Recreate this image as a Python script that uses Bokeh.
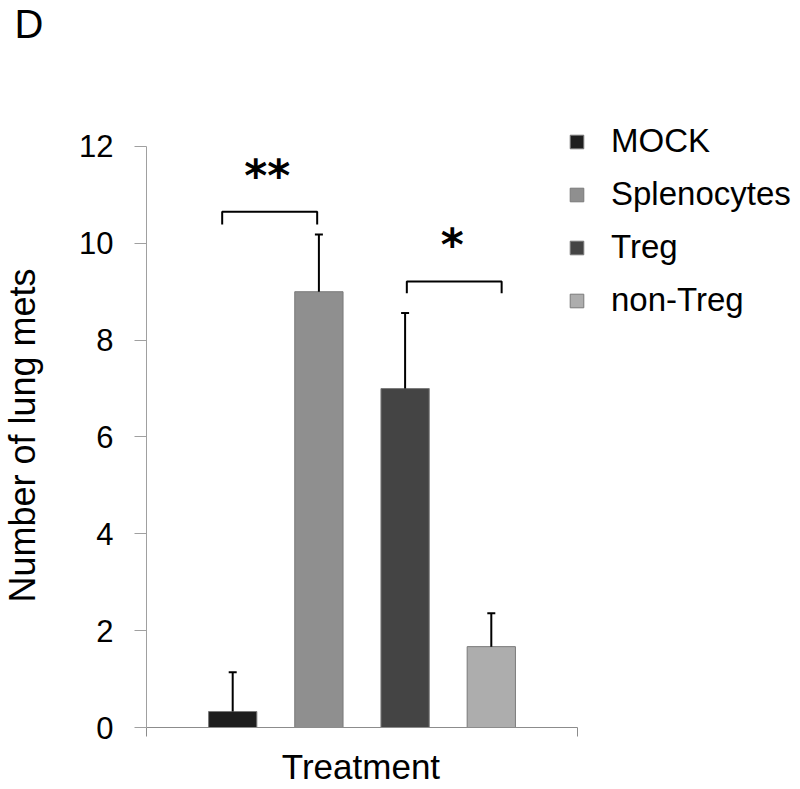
from math import pi
from bokeh.plotting import figure
from bokeh.models import (Range1d, FixedTicker, Whisker, ColumnDataSource, Legend,
                          LegendItem, Label, TeeHead)
from bokeh.core.properties import value
from bokeh.embed import file_html
from bokeh.resources import INLINE

# ---- data ----
categories = ["MOCK", "Splenocytes", "Treg", "non-Treg"]
means = [0.33, 9.0, 7.0, 1.67]
errors = [0.81, 1.18, 1.56, 0.69]
colors = ["#1e1e1e", "#8f8f8f", "#444444", "#adadad"]
y_ticks = [0, 2, 4, 6, 8, 10, 12]
sig_labels = ["**", "*"]

FONT = "Liberation Sans"

positions = [i + 1 for i in range(len(categories))]
upper = [m + e for m, e in zip(means, errors)]
src = ColumnDataSource(dict(x=positions, top=means, upper=upper, color=colors, name=categories))

p = figure(width=800, height=789, x_range=Range1d(0, 7.587), y_range=Range1d(0, 13.858),
           output_backend="svg", toolbar_location=None,
           min_border_left=146, min_border_right=0, min_border_top=56, min_border_bottom=62)
p.grid.visible = False
p.outline_line_color = None
p.background_fill_color = "white"
p.border_fill_color = "white"

# y axis
ya = p.yaxis[0]
ya.ticker = FixedTicker(ticks=y_ticks)
ya.bounds = (0, 12)
ya.axis_line_color = "#a0a0a0"
ya.major_tick_line_color = "#a0a0a0"
ya.major_tick_out = 12
ya.major_tick_in = 0
ya.minor_tick_line_color = None
ya.major_label_text_font = FONT
ya.major_label_text_font_size = "31px"
ya.major_label_text_color = "black"
ya.major_label_standoff = 21

# x axis
xa = p.xaxis[0]
xa.ticker = FixedTicker(ticks=[0, 5])
xa.bounds = (0, 5)
xa.major_label_overrides = {0: "", 5: ""}
xa.major_label_text_font_size = "1px"
xa.major_label_standoff = 0
xa.axis_line_color = "#8c8c8c"
xa.major_tick_line_color = "#8c8c8c"
xa.major_tick_out = 9
xa.major_tick_in = 0
xa.minor_tick_line_color = None

# axis titles and panel letter, placed in the side panels
p.add_layout(Label(x=-1.4385, y=6.03, text="Number of lung mets",
                   angle=pi / 2, text_align="center", text_baseline="alphabetic",
                   text_font=FONT, text_font_size="36px", text_color="black"), "left")
p.add_layout(Label(x=2.488, y=-0.806, text="Treatment",
                   text_align="center", text_baseline="alphabetic",
                   text_font=FONT, text_font_size="35px", text_color="black"), "below")
p.add_layout(Label(x=-1.531, y=14.519, text="D",
                   text_align="left", text_baseline="alphabetic",
                   text_font=FONT, text_font_size="40px", text_color="black"), "above")

# bars
bars = p.vbar(x="x", top="top", bottom=0, width=0.56, source=src,
              fill_color="color", line_color="#7a7a7a", line_width=1)

# error bars (upper only)
wh = Whisker(base="x", lower="top", upper="upper", source=src,
             upper_head=TeeHead(size=8, line_width=2, line_color="black"),
             lower_head=None, line_width=2, line_color="black", level="glyph")
p.add_layout(wh)

# significance brackets
p.multi_line(xs=[[0.878, 0.878, 1.98, 1.98], [3.02, 3.02, 4.12, 4.12]],
             ys=[[10.39, 10.65, 10.65, 10.39], [8.97, 9.21, 9.21, 8.97]],
             line_color="black", line_width=2)
p.text(x=[1.40, 3.546], y=[11.41, 9.97], text=sig_labels,
       text_font=value("DejaVu Sans"), text_font_size="44px", text_font_style="bold",
       text_color="black", text_align="center", text_baseline="alphabetic")

# legend
legend = Legend(items=[LegendItem(label=c, renderers=[bars], index=i) for i, c in enumerate(categories)],
                location=(422, 408), orientation="vertical",
                glyph_width=17, glyph_height=17, label_standoff=26, spacing=15,
                padding=0, margin=0, border_line_color=None, background_fill_alpha=0,
                label_text_font=FONT, label_text_font_size="33px", label_height=36,
                label_text_color="black")
p.add_layout(legend)

open("out.html", "w").write(file_html(p, INLINE))
